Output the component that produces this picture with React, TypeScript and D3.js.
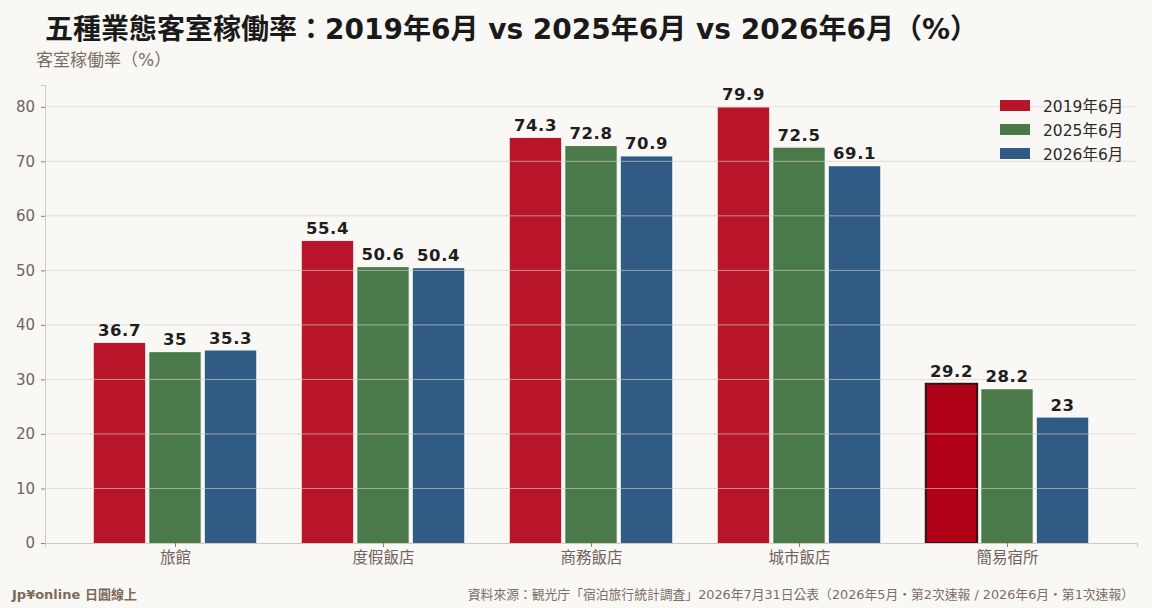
import { useEffect, useRef } from 'react';
import * as d3 from 'd3';

const W = 1152;
const H = 608;

const categories = ['旅館', '度假飯店', '商務飯店', '城市飯店', '簡易宿所'];
const seriesNames = ['2019年6月', '2025年6月', '2026年6月'];
const values2019 = [36.7, 55.4, 74.3, 79.9, 29.2];
const values2025 = [35, 50.6, 72.8, 72.5, 28.2];
const values2026 = [35.3, 50.4, 70.9, 69.1, 23];
const yTicks = [0, 10, 20, 30, 40, 50, 60, 70, 80];
const seriesColors = ['#b8152b', '#4a7a4a', '#2f5b84'];
const highlight = { series: 0, category: 4 };

const FONT = '"DejaVu Sans", "Noto Sans CJK TC", sans-serif';

export default function App() {
  const svgRef = useRef<SVGSVGElement>(null);

  useEffect(() => {
    if (!svgRef.current) return;
    const svg = d3.select(svgRef.current);
    svg.selectAll('*').remove();

    const left = 45;
    const right = 1137;
    const top = 85;
    const bottom = 543;

    const x = d3.scaleLinear().domain([-0.625, 4.625]).range([left, right]);
    const y = d3.scaleLinear().domain([0, 84]).range([bottom, top]);

    svg.append('rect').attr('width', W).attr('height', H).attr('fill', '#faf8f5');

    const allSeries = [values2019, values2025, values2026];
    const barW = 0.247;
    const offset = 0.267;

    // bars
    allSeries.forEach((vals, si) => {
      svg
        .append('g')
        .selectAll('rect')
        .data(vals)
        .join('rect')
        .attr('x', (_, i) => x(i + (si - 1) * offset - barW / 2))
        .attr('width', x(barW) - x(0))
        .attr('y', (d) => y(d))
        .attr('height', (d) => y(0) - y(d))
        .attr('fill', (_, i) =>
          si === highlight.series && i === highlight.category ? '#b00018' : seriesColors[si]
        )
        .attr('stroke', (_, i) =>
          si === highlight.series && i === highlight.category ? '#2a1618' : 'none'
        )
        .attr('stroke-width', 2);
    });

    // gridlines drawn over bars
    svg
      .append('g')
      .selectAll('line')
      .data(yTicks.slice(1))
      .join('line')
      .attr('x1', left)
      .attr('x2', right)
      .attr('y1', (d) => y(d))
      .attr('y2', (d) => y(d))
      .attr('stroke', '#d8ccc4')
      .attr('stroke-opacity', 0.65)
      .attr('stroke-width', 1);

    // value labels
    allSeries.forEach((vals, si) => {
      svg
        .append('g')
        .selectAll('text')
        .data(vals)
        .join('text')
        .attr('x', (_, i) => x(i + (si - 1) * offset))
        .attr('y', (d) => y(d) - 7)
        .attr('text-anchor', 'middle')
        .attr('fill', '#1e1e1e')
        .style('font-family', FONT)
        .style('font-size', '16.5px')
        .style('letter-spacing', '0.6px')
        .style('font-weight', '700')
        .text((d) => String(d));
    });

    // axes
    const yAxis = svg
      .append('g')
      .attr('transform', `translate(${left},0)`)
      .call(d3.axisLeft(y).tickValues(yTicks).tickSize(4).tickPadding(6));
    const xAxis = svg
      .append('g')
      .attr('transform', `translate(0,${bottom})`)
      .call(
        d3
          .axisBottom(x)
          .tickValues(d3.range(categories.length))
          .tickFormat((d) => categories[d as number])
          .tickSize(4)
          .tickPadding(5)
      );
    [yAxis, xAxis].forEach((ax) => {
      ax.select('.domain').attr('stroke', '#d2c9c0');
      ax.selectAll('.tick line').attr('stroke', '#8a8078');
      ax.selectAll('.tick text')
        .attr('fill', '#6e645c')
        .style('font-family', FONT)
        .style('font-size', '15px');
    });
    xAxis.selectAll('.tick text').style('font-size', '15.5px');

    // title
    svg
      .append('text')
      .attr('x', 45)
      .attr('y', 39)
      .attr('fill', '#1a1a1a')
      .style('font-family', FONT)
      .style('font-size', '28px')
      .style('font-weight', '700')
      .text('五種業態客室稼働率：2019年6月 vs 2025年6月 vs 2026年6月（%）');

    svg
      .append('text')
      .attr('x', 36)
      .attr('y', 66)
      .attr('fill', '#7a6e65')
      .style('font-family', FONT)
      .style('font-size', '17px')
      .text('客室稼働率（%）');

    // legend
    const legend = svg
      .append('g')
      .selectAll('g')
      .data(seriesNames)
      .join('g')
      .attr('transform', (_, i) => `translate(1000,${106 + i * 24})`);
    legend
      .append('rect')
      .attr('x', 0)
      .attr('y', -6)
      .attr('width', 30)
      .attr('height', 11)
      .attr('fill', (_, i) => seriesColors[i]);
    legend
      .append('text')
      .attr('x', 43)
      .attr('y', 5.5)
      .attr('fill', '#2a2a2a')
      .style('font-family', FONT)
      .style('font-size', '15.5px')
      .text((d) => d);

    // footer
    svg
      .append('text')
      .attr('x', 12)
      .attr('y', 599)
      .attr('fill', '#7a6a5a')
      .style('font-family', FONT)
      .style('font-size', '13px')
      .style('font-weight', '700')
      .text('Jp¥online 日圓線上');
    svg
      .append('text')
      .attr('x', 1134)
      .attr('y', 599)
      .attr('text-anchor', 'end')
      .attr('fill', '#7a6e65')
      .style('font-family', FONT)
      .style('font-size', '12.8px')
      .text('資料來源：観光庁「宿泊旅行統計調査」2026年7月31日公表（2026年5月・第2次速報 / 2026年6月・第1次速報）');
  }, []);

  return (
    <svg
      ref={svgRef}
      width={W}
      height={H}
      style={{ position: 'absolute', left: 0, top: 0 }}
    />
  );
}
